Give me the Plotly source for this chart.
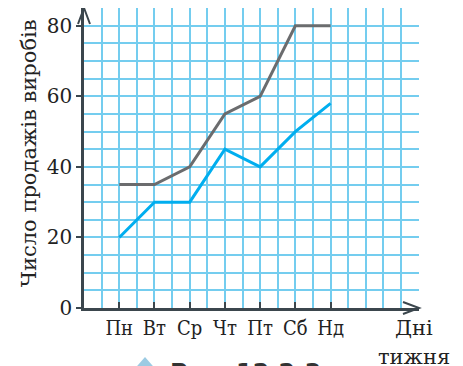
import plotly.graph_objects as go

# days of the week and sales per day
days = ["Пн", "Вт", "Ср", "Чт", "Пт", "Сб", "Нд"]
day_pos = [1, 2, 3, 4, 5, 6, 7]
sales_gray = [35, 35, 40, 55, 60, 80, 80]
sales_blue = [20, 30, 30, 45, 40, 50, 58]
y_ticks = [0, 20, 40, 60, 80]

AXIS = "#3b464d"
GRID = "#74cdef"
SERIF = "DejaVu Serif"

fig = go.Figure()
fig.add_trace(go.Scatter(x=day_pos, y=sales_gray, mode="lines",
                         line=dict(color="#6b6c6e", width=3), showlegend=False))
fig.add_trace(go.Scatter(x=day_pos, y=sales_blue, mode="lines",
                         line=dict(color="#00aeef", width=3), showlegend=False))

fig.update_xaxes(
    range=[0, 9.51], tickvals=day_pos, ticktext=days,
    showgrid=True, gridcolor=GRID, gridwidth=1.5,
    minor=dict(tick0=0, dtick=0.5, showgrid=True, gridcolor=GRID, gridwidth=1.5),
    showline=True, linecolor=AXIS, linewidth=2.5,
    ticks="inside", ticklen=6, tickwidth=1.5, tickcolor=AXIS,
    tickfont=dict(family="DejaVu Serif Condensed, DejaVu Serif", size=20, color="#222"),
    zeroline=False, fixedrange=True,
)
fig.update_yaxes(
    range=[0, 85.05], tickvals=y_ticks,
    showgrid=True, gridcolor=GRID, gridwidth=1.5,
    minor=dict(tick0=0, dtick=5, showgrid=True, gridcolor=GRID, gridwidth=1.5),
    showline=True, linecolor=AXIS, linewidth=2.5,
    ticks="outside", ticklen=5, tickwidth=1.5, tickcolor=AXIS,
    tickfont=dict(family=SERIF, size=20, color="#222"),
    zeroline=False, fixedrange=True,
)

# axis arrows (open chevrons)
fig.add_shape(type="path", xref="paper", yref="paper",
              xsizemode="pixel", ysizemode="pixel", xanchor=0, yanchor=1,
              path="M -6,-16 L 0,0 L 6,-16", line=dict(color=AXIS, width=2))
fig.add_shape(type="path", xref="paper", yref="paper",
              xsizemode="pixel", ysizemode="pixel", xanchor=1, yanchor=0,
              path="M -16,6 L 0,0 L -16,-6", line=dict(color=AXIS, width=2))

# axis titles
fig.add_annotation(text="Число продажів виробів", xref="paper", yref="paper",
                   x=-0.205, y=0.517, textangle=-90, showarrow=False,
                   font=dict(family=SERIF, size=21, color="#222"))
fig.add_annotation(text="Дні", xref="paper", yref="paper", x=0.985, y=-0.067,
                   xanchor="center", yanchor="middle", showarrow=False,
                   font=dict(family=SERIF, size=21, color="#222"))
fig.add_annotation(text="тижня", xref="paper", yref="paper", x=0.985, y=-0.163,
                   xanchor="center", yanchor="middle", showarrow=False,
                   font=dict(family=SERIF, size=21, color="#222"))

# caption, mostly below the visible area
fig.add_shape(type="path", xref="paper", yref="paper",
              xsizemode="pixel", ysizemode="pixel", xanchor=0.182, yanchor=0,
              path="M 0,-49 L -14,-65 L 14,-65 Z",
              fillcolor="#9ccbe3", line=dict(width=0))
fig.add_annotation(text="Рис. 12.2.3", xref="paper", yref="paper", x=0.25, y=-0.163,
                   xanchor="left", yanchor="top", showarrow=False,
                   font=dict(family="DejaVu Sans", size=24, color="#333",
                             weight="bold"))

# the page body adds an 8 px offset, so margins are shifted to compensate
fig.update_layout(
    width=463, height=366,
    margin=dict(l=76, r=52, t=0, b=66),
    plot_bgcolor="white", paper_bgcolor="white",
)

fig.write_html("out.html")
